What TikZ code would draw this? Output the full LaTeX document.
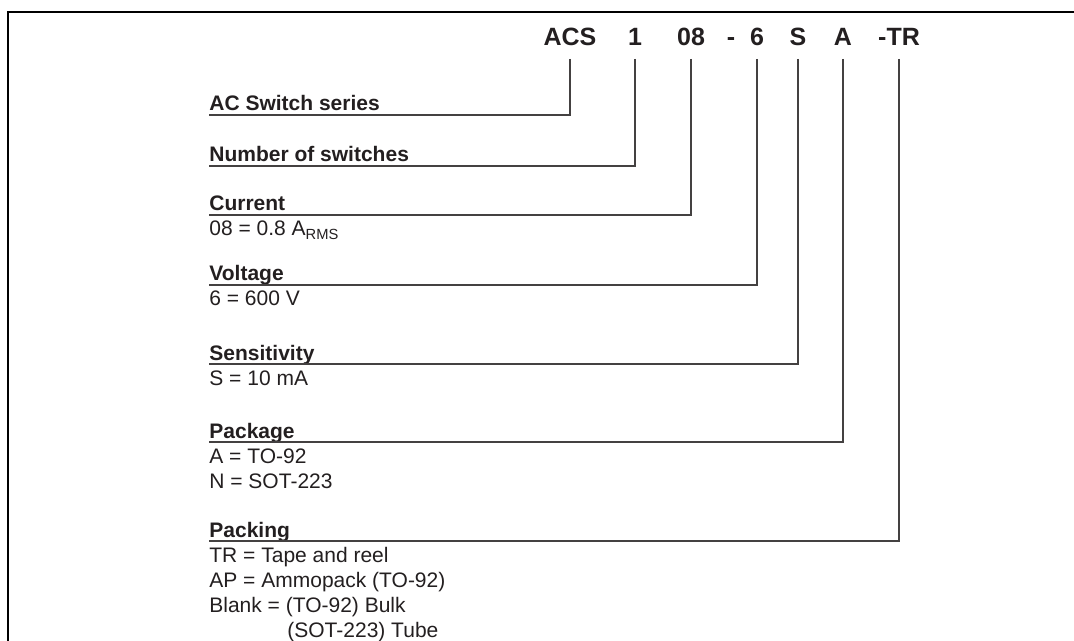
\documentclass[tikz,border=0pt]{standalone}
\usepackage{fontspec}
\setmainfont{Liberation Sans}
\definecolor{ink}{RGB}{35,31,32}

\begin{document}
\begin{tikzpicture}
[x=0.5pt, y=-0.5pt,
partno/.style={font=\fontsize{12.5}{15}\selectfont\bfseries, text=ink, anchor=base, inner sep=0pt, text depth=0pt, outer ysep=6.5pt},
heading/.style={font=\fontsize{10.5}{12.5}\selectfont\bfseries, text=ink, anchor=base west, inner sep=0pt},
entry/.style={font=\fontsize{10.5}{12.5}\selectfont, text=ink, anchor=base west, inner sep=0pt, align=left},
leader/.style={draw=ink!85, line width=0.6pt},
frame/.style={draw=black, line width=1pt}]

\useasboundingbox (0,0) rectangle (1074,641);
\draw[frame] (8,641) -- (8,12) -- (1074,12);

% part number
\node[partno] (cACS) at (570,46) {ACS};
\node[partno] (c1) at (635,46) {1};
\node[partno] (c08) at (691,46) {08};
\node[partno] (cDash) at (731,46) {-};
\node[partno] (c6) at (757,46) {6};
\node[partno] (cS) at (798,46) {S};
\node[partno] (cA) at (843,46) {A};
\node[partno] (cTR) at (899,46) {-TR};

% underlines
\coordinate (uSeries) at (209,115);
\coordinate (uNumber) at (209,166);
\coordinate (uCurrent) at (209,215);
\coordinate (uVoltage) at (209,285);
\coordinate (uSens) at (209,364);
\coordinate (uPackage) at (209,442);
\coordinate (uPacking) at (209,541);

\node[heading] (hSeries) at ([yshift=2pt]uSeries) {AC Switch series};
\node[heading] (hNumber) at ([yshift=2pt]uNumber) {Number of switches};
\node[heading] (hCurrent) at ([yshift=2pt]uCurrent) {Current};
\node[heading] (hVoltage) at ([yshift=2pt]uVoltage) {Voltage};
\node[heading] (hSens) at ([yshift=2pt]uSens) {Sensitivity};
\node[heading] (hPackage) at ([yshift=2pt]uPackage) {Package};
\node[heading] (hPacking) at ([yshift=2pt]uPacking) {Packing};

% values (base = last line)
\node[entry] (vCurrent) at ([yshift=-10.5pt]uCurrent) {08 = 0.8 A\textsubscript{RMS}};
\node[entry] (vVoltage) at ([yshift=-10.5pt]uVoltage) {6 = 600 V};
\node[entry] (vSens) at ([yshift=-10.5pt]uSens) {S = 10 mA};
\node[entry] (vPackage) at ([yshift=-23pt]uPackage) {A = TO-92\\N = SOT-223};
\node[entry] (vPacking) at ([yshift=-48pt]uPacking) {TR = Tape and reel\\AP = Ammopack (TO-92)\\Blank = (TO-92) Bulk\\\hspace*{39pt}(SOT-223) Tube};

\draw[leader] (cACS.south) |- (uSeries);
\draw[leader] (c1.south) |- (uNumber);
\draw[leader] (c08.south) |- (uCurrent);
\draw[leader] (c6.south) |- (uVoltage);
\draw[leader] (cS.south) |- (uSens);
\draw[leader] (cA.south) |- (uPackage);
\draw[leader] (cTR.south) |- (uPacking);
\end{tikzpicture}
\end{document}
